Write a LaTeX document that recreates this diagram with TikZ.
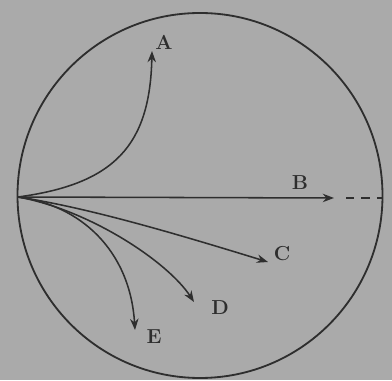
\documentclass[tikz,border=0pt]{standalone}
\usepackage{tikz}
\usetikzlibrary{arrows.meta}
\definecolor{paper}{HTML}{AAAAAA}
\definecolor{ink}{HTML}{2E2E2E}

\begin{document}
\begin{tikzpicture}[x=0.025cm, y=0.025cm,
    ray/.style={draw=ink, line width=1.1pt, -{Stealth[length=8pt, width=6pt]}},
    lbl/.style={font=\Large\bfseries, text=ink, inner sep=1pt}]
    % background paper
    \fill[paper] (0,0) rectangle (392,380);
    \useasboundingbox (0,0) rectangle (392,380);
    \draw[ink, line width=1.3pt] (200,184.5) circle (182.5);
    \coordinate (o) at (18,183);
    \coordinate (tA) at (152,329);
    \coordinate (tB) at (334,182);
    \coordinate (tC) at (268,118);
    \coordinate (tD) at (194,78);
    \coordinate (tE) at (135,50);
    \coordinate (rim) at (382.5,182);
    \node[lbl] (lA) at (164,338) {A};
    \node[lbl] (lB) at (300,197) {B};
    \node[lbl] (lC) at (282,126) {C};
    \node[lbl] (lD) at (220,72) {D};
    \node[lbl] (lE) at (154,43) {E};
    % rays from the source
    \draw[ray] (o) .. controls (115,196) and (150,235) .. (tA);
    \draw[ray] (o) -- (tB);
    \draw[ray] (o) .. controls (90,172) and (180,145) .. (tC);
    \draw[ray] (o) .. controls (90,170) and (168,118) .. (tD);
    \draw[ray] (o) .. controls (80,175) and (130,130) .. (tE);
    \draw[ink, line width=1.1pt, dash pattern=on 6pt off 5pt] (tB) ++(12,0) -- (rim);
\end{tikzpicture}
\end{document}
